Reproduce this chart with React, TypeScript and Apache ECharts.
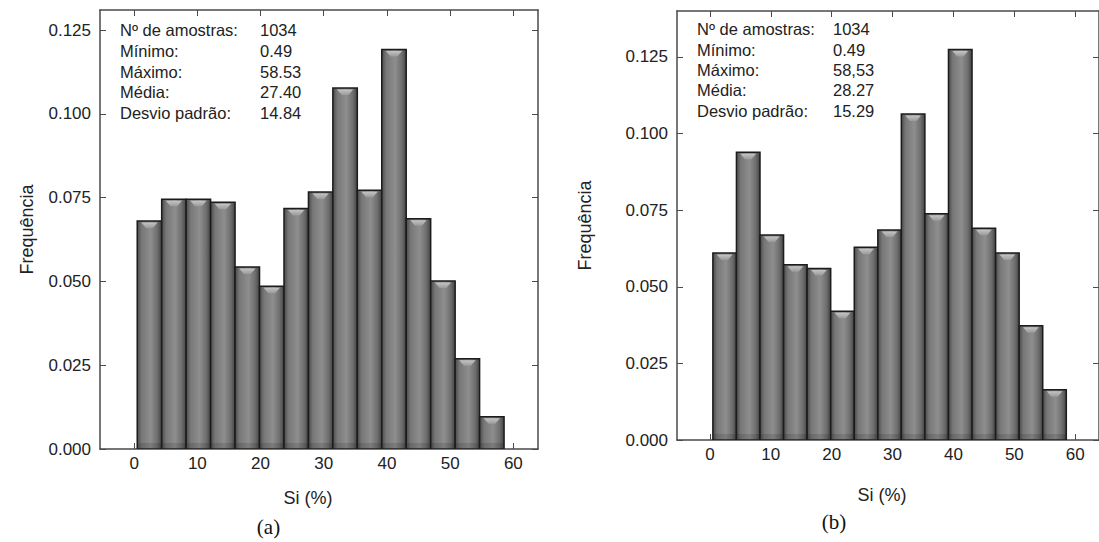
import React, { useEffect, useRef } from "react";
import * as echarts from "echarts";

const binEdges = [0.49, 4.36, 8.23, 12.1, 15.97, 19.84, 23.71, 27.58, 31.44, 35.31, 39.18, 43.05, 46.92, 50.79, 54.66, 58.53];
const freqA = [0.068, 0.0745, 0.0745, 0.0736, 0.0543, 0.0486, 0.0718, 0.0767, 0.1077, 0.0772, 0.1192, 0.0687, 0.0501, 0.0269, 0.0096];
const freqB = [0.061, 0.0939, 0.0669, 0.0572, 0.056, 0.042, 0.0629, 0.0685, 0.1064, 0.0738, 0.1274, 0.0691, 0.061, 0.0373, 0.0164];
const xTicks = [0, 10, 20, 30, 40, 50, 60];
const yTicks = [0, 0.025, 0.05, 0.075, 0.1, 0.125];
const statLabels = ["Nº de amostras:", "Mínimo:", "Máximo:", "Média:", "Desvio padrão:"];
const statValuesA = ["1034", "0.49", "58.53", "27.40", "14.84"];
const statValuesB = ["1034", "0.49", "58,53", "28.27", "15.29"];
const xName = "Si (%)";
const yName = "Frequência";

const FONT = "'Liberation Sans', Arial, sans-serif";
const TXT = "#222";
const FRAME = "#4a4a4a";

function renderBar(params: any, api: any) {
  const p0 = api.coord([api.value(0), 0]);
  const p1 = api.coord([api.value(1), api.value(2)]);
  const left = p0[0];
  const right = p1[0];
  const top = p1[1];
  const bottom = p0[1];
  const w = right - left;
  const h = bottom - top;
  return {
    type: "group",
    children: [
      {
        type: "rect",
        shape: { x: left, y: top, width: w, height: h },
        style: {
          fill: {
            type: "linear", x: 0, y: 0, x2: 1, y2: 0,
            colorStops: [
              { offset: 0, color: "#4a4a4a" },
              { offset: 0.18, color: "#777777" },
              { offset: 0.55, color: "#8e8e8e" },
              { offset: 0.82, color: "#6e6e6e" },
              { offset: 1, color: "#444444" },
            ],
          },
          stroke: "#1c1c1c",
          lineWidth: 1.5,
        },
      },
      {
        type: "polygon",
        shape: {
          points: [
            [left + w * 0.17, top + 1.5],
            [right - w * 0.17, top + 1.5],
            [left + w * 0.64, top + 7],
            [left + w * 0.36, top + 7],
          ],
        },
        style: {
          fill: {
            type: "linear", x: 0, y: 0, x2: 0, y2: 1,
            colorStops: [
              { offset: 0, color: "#c4c4c4" },
              { offset: 1, color: "#9a9a9a" },
            ],
          },
        },
      },
      {
        type: "rect",
        shape: { x: left + 1, y: bottom - 6, width: w - 2, height: 5 },
        style: { fill: "rgba(0,0,0,0.12)" },
      },
    ],
  };
}

function makeData(freq: number[]) {
  return freq.map((f, i) => [binEdges[i], binEdges[i + 1], f]);
}

function axisPair(grid: number, min: number, max: number) {
  const line = { show: true, onZero: false, lineStyle: { color: FRAME, width: 1.5 } };
  return [
    {
      type: "value", gridIndex: grid, position: "bottom", min, max,
      axisLine: line,
      axisTick: { show: true, inside: true, length: 6, customValues: xTicks, lineStyle: { color: FRAME } },
      axisLabel: { show: true, customValues: xTicks, margin: 6, color: TXT, fontSize: 17, fontFamily: FONT },
      splitLine: { show: false },
    },
    {
      type: "value", gridIndex: grid, position: "top", min, max,
      axisLine: line,
      axisTick: { show: true, inside: true, length: 6, customValues: xTicks, lineStyle: { color: FRAME } },
      axisLabel: { show: false },
      splitLine: { show: false },
    },
  ];
}

function yPair(grid: number, max: number) {
  const line = { show: true, onZero: false, lineStyle: { color: FRAME, width: 1.5 } };
  return [
    {
      type: "value", gridIndex: grid, position: "left", min: 0, max,
      axisLine: line,
      axisTick: { show: true, inside: true, length: 6, customValues: yTicks, lineStyle: { color: FRAME } },
      axisLabel: {
        show: true, customValues: yTicks, margin: 9, color: TXT, fontSize: 17, fontFamily: FONT,
        formatter: (v: number) => v.toFixed(3),
      },
      splitLine: { show: false },
    },
    {
      type: "value", gridIndex: grid, position: "right", min: 0, max,
      axisLine: line,
      axisTick: { show: true, inside: true, length: 6, customValues: yTicks, lineStyle: { color: FRAME } },
      axisLabel: { show: false },
      splitLine: { show: false },
    },
  ];
}

function statTexts(x0: number, x1: number, ys: number[], values: string[]) {
  const out: any[] = [];
  statLabels.forEach((l, i) => {
    out.push({
      type: "text", x: x0, y: ys[i],
      style: { text: l, fill: TXT, font: `16.5px ${FONT}`, textVerticalAlign: "middle", verticalAlign: "middle" },
    });
    out.push({
      type: "text", x: x1, y: ys[i],
      style: { text: values[i], fill: TXT, font: `16.5px ${FONT}`, textVerticalAlign: "middle", verticalAlign: "middle" },
    });
  });
  return out;
}

export default function App() {
  const ref = useRef<HTMLDivElement>(null);
  useEffect(() => {
    if (!ref.current) return;
    const chart = echarts.init(ref.current, null, { renderer: "svg" });
    const center = { align: "center", verticalAlign: "middle", textAlign: "center", textVerticalAlign: "middle" };
    const option: any = {
      animation: false,
      backgroundColor: "#ffffff",
      grid: [
        { left: 100, top: 10, width: 438, height: 439, containLabel: false },
        { left: 677, top: 11, width: 426, height: 429, containLabel: false },
      ],
      xAxis: [...axisPair(0, -5.4, 63.9), ...axisPair(1, -5.4, 63.9)],
      yAxis: [...yPair(0, 0.131), ...yPair(1, 0.14)],
      series: [
        {
          type: "custom", xAxisIndex: 0, yAxisIndex: 0,
          renderItem: renderBar, encode: { x: [0, 1], y: 2 },
          data: makeData(freqA), clip: true,
        },
        {
          type: "custom", xAxisIndex: 2, yAxisIndex: 2,
          renderItem: renderBar, encode: { x: [0, 1], y: 2 },
          data: makeData(freqB), clip: true,
        },
      ],
      graphic: [
        ...statTexts(120, 260, [30, 51, 71.5, 92, 113], statValuesA),
        ...statTexts(697, 833, [29, 50, 70, 90, 111], statValuesB),
        { type: "text", x: 308, y: 498, style: { text: xName, fill: TXT, font: `18px ${FONT}`, ...center } },
        { type: "text", x: 882, y: 495, style: { text: xName, fill: TXT, font: `18px ${FONT}`, ...center } },
        { type: "text", x: 27, y: 229.5, rotation: Math.PI / 2, style: { text: yName, fill: TXT, font: `18px ${FONT}`, ...center } },
        { type: "text", x: 585, y: 225.5, rotation: Math.PI / 2, style: { text: yName, fill: TXT, font: `18px ${FONT}`, ...center } },
        { type: "text", x: 268.5, y: 527, style: { text: "(a)", fill: "#111", font: `21px 'Liberation Serif', 'Times New Roman', serif`, ...center } },
        { type: "text", x: 834, y: 522, style: { text: "(b)", fill: "#111", font: `21px 'Liberation Serif', 'Times New Roman', serif`, ...center } },
      ],
    };
    chart.setOption(option);
    return () => chart.dispose();
  }, []);
  return (
    <div
      ref={ref}
      style={{ position: "absolute", left: 0, top: 0, width: 1099, height: 542, background: "#fff" }}
    />
  );
}
